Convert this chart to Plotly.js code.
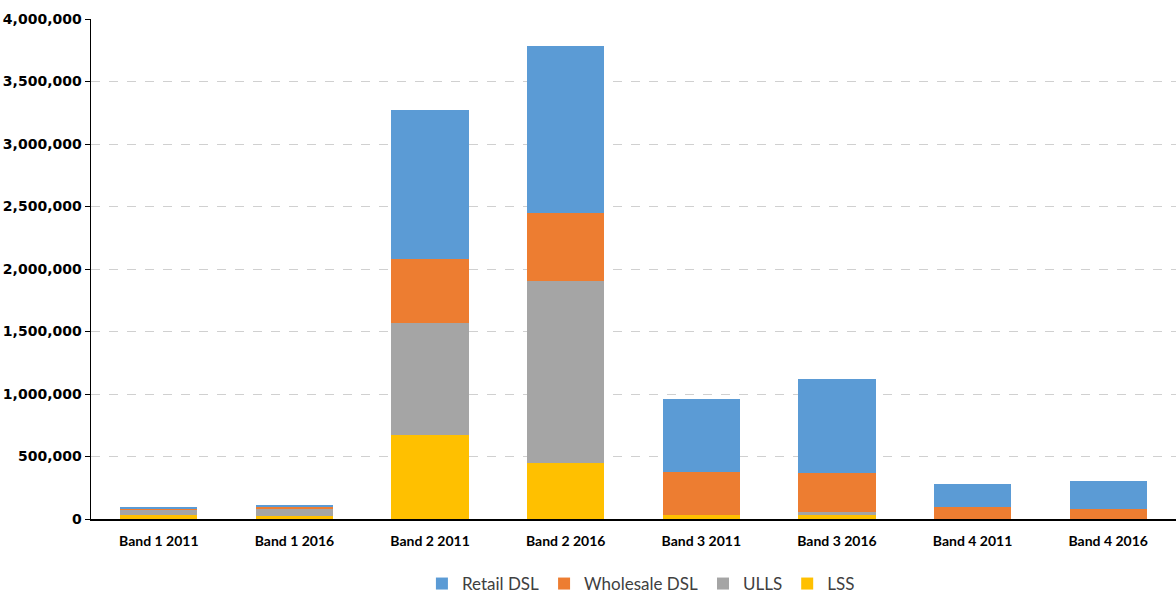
<!DOCTYPE html>
<html>
<head>
<meta charset="utf-8">
<script src="https://cdn.plot.ly/plotly-3.0.1.min.js"></script>
<style>html,body{margin:0;padding:0;background:#fff;}#chart{width:1176px;height:595px;}</style>
</head>
<body>
<div id="chart"></div>
<script>
const categories = ["Band 1 2011","Band 1 2016","Band 2 2011","Band 2 2016","Band 3 2011","Band 3 2016","Band 4 2011","Band 4 2016"];
const lss        = [30000, 22000, 670000, 450000, 30000, 30000, 0, 0];
const ulls       = [42000, 58000, 896000, 1456000, 2000, 28000, 0, 0];
const wholesale  = [8000, 15000, 512000, 544000, 348000, 307000, 96000, 78000];
const retail     = [13000, 15000, 1195000, 1334000, 584000, 755000, 182000, 228000];
const seriesNames = ["Retail DSL","Wholesale DSL","ULLS","LSS"];
const yTickVals = [0,500000,1000000,1500000,2000000,2500000,3000000,3500000,4000000];
const yTickText = ["0","500,000","1,000,000","1,500,000","2,000,000","2,500,000","3,000,000","3,500,000","4,000,000"];

const colors = {"Retail DSL":"#5b9bd5","Wholesale DSL":"#ed7d31","ULLS":"#a5a5a5","LSS":"#ffc000"};
const mk = (name, vals, rank) => ({type:"bar", name:name, x:categories, y:vals,
  marker:{color:colors[name], line:{width:0}}, legendrank:rank, hoverinfo:"x+y+name"});

const data = [
  mk("LSS", lss, 4),
  mk("ULLS", ulls, 3),
  mk("Wholesale DSL", wholesale, 2),
  mk("Retail DSL", retail, 1)
];

const layout = {
  width:1176, height:595,
  margin:{l:91, r:0, t:19, b:76, autoexpand:false},
  barmode:"stack", bargap:0.43,
  paper_bgcolor:"#fff", plot_bgcolor:"#fff",
  showlegend:true,
  legend:{orientation:"h", x:0.545, xref:"container", xanchor:"center",
    y:0.0185, yref:"container", yanchor:"middle",
    traceorder:"normal", font:{family:"Lato, 'Open Sans', sans-serif", size:17, color:"#404040"},
    itemwidth:30, tracegroupgap:0},
  xaxis:{type:"category", showline:true, linecolor:"#000", linewidth:1.5,
    ticks:"outside", ticklen:9, tickcolor:"rgba(0,0,0,0)", automargin:false,
    tickfont:{family:"Lato, 'Open Sans', sans-serif", size:14, color:"#000", weight:"bold"},
    showgrid:false, fixedrange:true},
  yaxis:{range:[0,4000000], tickvals:yTickVals, ticktext:yTickText, automargin:false,
    showline:true, linecolor:"#000", linewidth:1.5, ticks:"outside", ticklen:5, tickcolor:"#000",
    gridcolor:"#d0d0d0", griddash:"dash", gridwidth:1, zeroline:false,
    tickfont:{family:"'DejaVu Sans', sans-serif", size:14, color:"#000", weight:"bold"},
    fixedrange:true}
};

Plotly.newPlot("chart", data, layout, {displayModeBar:false, staticPlot:true});
</script>
</body>
</html>
